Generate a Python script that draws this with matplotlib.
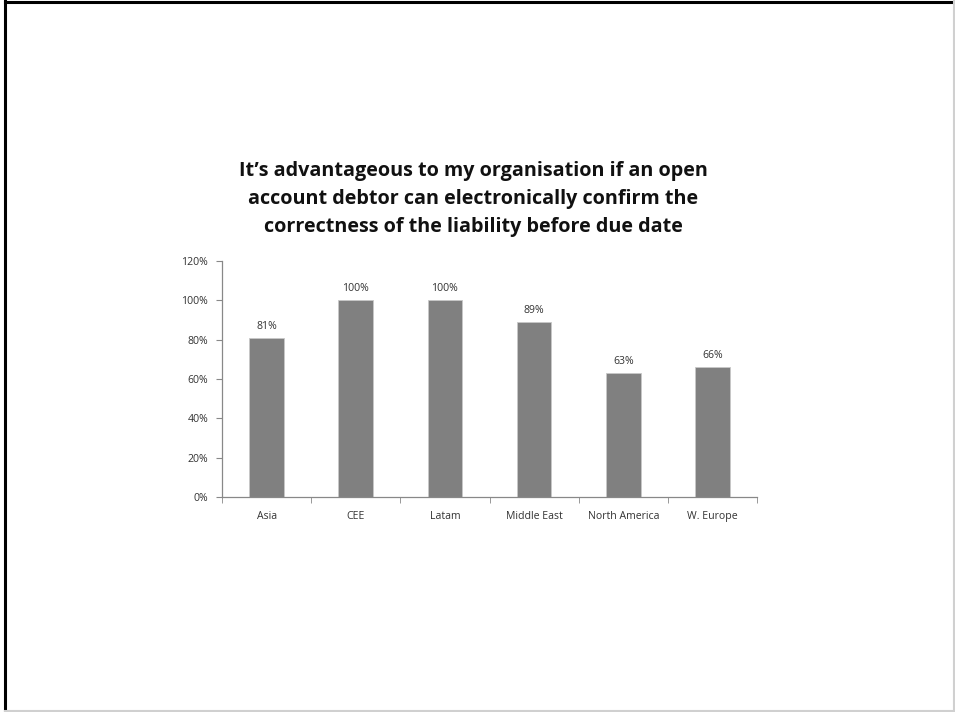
import matplotlib
matplotlib.use('Agg')
import matplotlib.pyplot as plt
from matplotlib.ticker import PercentFormatter

regions = ['Asia', 'CEE', 'Latam', 'Middle East', 'North America', 'W. Europe']
share = [81, 100, 100, 89, 63, 66]
yticks = [0, 20, 40, 60, 80, 100, 120]

W, H = 955, 712
fig = plt.figure(figsize=(W / 100, H / 100), dpi=100)
plt.rcParams['font.family'] = ['Open Sans', 'DejaVu Sans']

# slide frame: dark top/left edge, light bottom/right edge
fig.add_artist(plt.Line2D([5 / W, 5 / W], [0, 1 - 1 / H], color='black', lw=2.2))
fig.add_artist(plt.Line2D([5 / W, 1], [1 - 1.5 / H, 1 - 1.5 / H], color='black', lw=2.2))
fig.add_artist(plt.Line2D([1 - 1 / W, 1 - 1 / W], [0, 1], color='#d0d0d0', lw=1.5))
fig.add_artist(plt.Line2D([5 / W, 1], [1 / H, 1 / H], color='#d0d0d0', lw=1.5))

ax = fig.add_axes([222 / W, 1 - 497 / H, (757 - 222) / W, (497 - 261) / H])
x = range(len(regions))
ax.bar(x, share, width=0.39, color='#808080', edgecolor='#c8c8c8', linewidth=0.6)
for xi, v in zip(x, share):
    ax.text(xi, v + 3, f'{v}%', ha='center', va='bottom', fontsize=7.6, color='#333333')

ax.set_xlim(-0.5, len(regions) - 0.5)
ax.set_ylim(0, 120)
ax.set_yticks(yticks)
ax.yaxis.set_major_formatter(PercentFormatter(decimals=0))
ax.set_xticks(x)
ax.set_xticklabels(regions)
ax.set_xticks([i + 0.5 for i in range(-1, len(regions))], minor=True)
ax.tick_params(axis='x', which='major', length=0, pad=10, labelsize=7.6, labelcolor='#333333')
ax.tick_params(axis='x', which='minor', length=4, direction='out', color='#888888')
ax.tick_params(axis='y', length=4, direction='out', color='#888888', labelsize=7.6,
               labelcolor='#333333', pad=6)
for s in ['top', 'right']:
    ax.spines[s].set_visible(False)
for s in ['left', 'bottom']:
    ax.spines[s].set_color('#888888')
    ax.spines[s].set_linewidth(0.9)

fig.text(473 / W, 1 - 199 / H,
         'It\u2019s advantageous to my organisation if an open\n'
         'account debtor can electronically confirm the\n'
         'correctness of the liability before due date',
         ha='center', va='center', fontsize=14.2, fontweight='bold', color='#111111',
         linespacing=1.55)

fig.savefig('out.png', dpi=100)
